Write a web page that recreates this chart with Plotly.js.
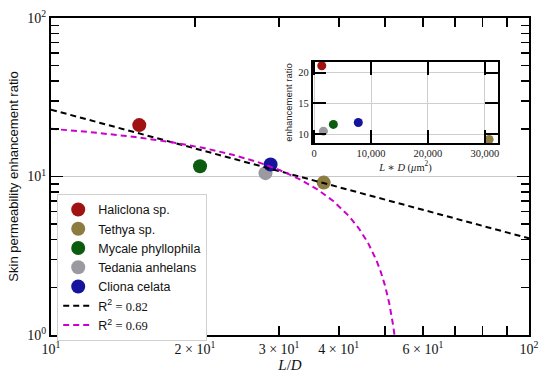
<!DOCTYPE html>
<html><head><meta charset="utf-8">
<script src="https://cdn.plot.ly/plotly-3.0.1.min.js"></script>
<style>html,body{margin:0;padding:0;background:#fff}#chart{width:550px;height:381px}</style>
</head><body><div id="chart"></div>
<script>
// Species data
const species = ['Haliclona sp.', 'Tethya sp.', 'Mycale phyllophila', 'Tedania anhelans', 'Cliona celata'];
const colors = ['#a11212', '#8c7c40', '#0c5c10', '#9a9aa0', '#14149c'];
const ratioLD = [15.3, 37.2, 20.5, 28.1, 28.8];
const enhancement = [21.1, 9.15, 11.6, 10.5, 11.9];
const productLD = [1350, 30750, 3390, 1640, 7770];

// Fit lines
const fitBlackX = [10, 100];
const fitBlackY = [26.4, 4.07];
const fitMagentaX = [10, 12, 15, 18, 21, 24, 27, 30, 33, 36, 39, 42, 44, 46, 48, 49, 50, 51, 52, 52.5];
const fitMagentaY = [20.0, 19.1, 17.75, 16.4, 15.06, 13.71, 12.37, 11.02, 9.67, 8.33, 6.98, 5.63, 4.73, 3.84, 2.94, 2.49, 2.04, 1.59, 1.14, 0.92];

// Tick labels
const xTickVals = [10, 20, 30, 40, 60, 100];
const xTickText = ['10<sup>1</sup>', '2 × 10<sup>1</sup>', '3 × 10<sup>1</sup>', '4 × 10<sup>1</sup>', '6 × 10<sup>1</sup>', '10<sup>2</sup>'];
const xMinorVals = [50, 70, 80, 90];
const yTickVals = [1, 10, 100];
const yTickText = ['10<sup>0</sup>', '10<sup>1</sup>', '10<sup>2</sup>'];
const yMinorVals = [2, 3, 4, 5, 6, 7, 8, 9, 20, 30, 40, 50, 60, 70, 80, 90];
const insetXTickVals = [0, 10000, 20000, 30000];
const insetXTickText = ['0', '10,000', '20,000', '30,000'];
const insetYTickVals = [10, 15, 20];

const serif = 'Liberation Serif, DejaVu Serif, serif';
const sans = 'Liberation Sans, DejaVu Sans, sans-serif';

const traces = [];
species.forEach((s, i) => {
  traces.push({
    x: [ratioLD[i]], y: [enhancement[i]], type: 'scatter', mode: 'markers', name: s,
    marker: {color: colors[i], size: 14, line: {width: 0}}, xaxis: 'x', yaxis: 'y'
  });
});
traces.push({x: fitBlackX, y: fitBlackY, type: 'scatter', mode: 'lines',
  name: 'R<sup>2</sup> <span style="font-family:Liberation Serif">= 0.82</span>',
  line: {color: '#000', width: 2, dash: '6px,4px'}, xaxis: 'x', yaxis: 'y'});
traces.push({x: fitMagentaX, y: fitMagentaY, type: 'scatter', mode: 'lines',
  name: 'R<sup>2</sup> <span style="font-family:Liberation Serif">= 0.69</span>',
  line: {color: '#cc00cc', width: 2, dash: '6px,4px'}, xaxis: 'x', yaxis: 'y'});
species.forEach((s, i) => {
  traces.push({
    x: [productLD[i]], y: [enhancement[i]], type: 'scatter', mode: 'markers', showlegend: false,
    marker: {color: colors[i], size: 9, line: {width: 0}}, xaxis: 'x2', yaxis: 'y2', cliponaxis: false
  });
});

const layout = {
  width: 550, height: 381,
  margin: {l: 51, r: 21, t: 18, b: 46},
  paper_bgcolor: '#fff', plot_bgcolor: '#fff',
  showlegend: true,
  legend: {x: 0.013, y: 0.445, xanchor: 'left', yanchor: 'top', bgcolor: '#fff',
    bordercolor: '#d0d0d0', borderwidth: 1, font: {family: sans, size: 12.5, color: '#111'},
    itemwidth: 30, tracegroupgap: 0},
  xaxis: {type: 'log', range: [1, 2], domain: [0, 1], tickmode: 'array', tickvals: xTickVals, ticktext: xTickText,
    ticks: 'inside', ticklen: 9, tickwidth: 1.5, tickcolor: '#000', showline: true, linewidth: 2, linecolor: '#000',
    mirror: 'ticks', showgrid: false, zeroline: false,
    minor: {tickmode: 'array', tickvals: xMinorVals, ticks: 'inside', ticklen: 9, tickwidth: 1.5, tickcolor: '#000', showgrid: false},
    tickfont: {family: serif, size: 14, color: '#111'},
    title: {text: '<i>L</i>/<i>D</i>', font: {family: serif, size: 15, color: '#111'}, standoff: 4}},
  yaxis: {type: 'log', range: [0, 2], domain: [0, 1], tickmode: 'array', tickvals: yTickVals, ticktext: yTickText,
    ticks: 'inside', ticklen: 12, tickwidth: 1.5, tickcolor: '#000', showline: true, linewidth: 2, linecolor: '#000',
    mirror: 'ticks', showgrid: true, gridcolor: '#c8c8c8', gridwidth: 1, zeroline: false,
    minor: {tickmode: 'array', tickvals: yMinorVals, ticks: 'inside', ticklen: 8, tickwidth: 1.5, tickcolor: '#000', showgrid: false},
    tickfont: {family: serif, size: 14, color: '#111'},
    title: {text: 'Skin permeability enhancement ratio', font: {family: sans, size: 13, color: '#111'}, standoff: 6}},
  xaxis2: {domain: [0.548, 0.935], anchor: 'y2', range: [-200, 32300], tickmode: 'array',
    tickvals: insetXTickVals, ticktext: insetXTickText, ticks: 'inside', ticklen: 13, tickwidth: 2, tickcolor: '#000',
    showline: true, linewidth: 2, linecolor: '#000', mirror: 'ticks', showgrid: true, gridcolor: '#cfcfcf', zeroline: false,
    tickfont: {family: serif, size: 10.5, color: '#222'},
    title: {text: '<i>L</i> ∗ <i>D</i> (<i>μ</i>m<sup>2</sup>)', font: {family: serif, size: 10.5, color: '#222'}, standoff: 5}},
  yaxis2: {domain: [0.606, 0.861], anchor: 'x2', range: [8.6, 21.7], tickmode: 'array',
    tickvals: insetYTickVals, ticks: 'inside', ticklen: 13, tickwidth: 2, tickcolor: '#000',
    showline: true, linewidth: 2, linecolor: '#000', mirror: 'ticks', showgrid: true, gridcolor: '#cfcfcf', zeroline: false,
    tickfont: {family: serif, size: 10.5, color: '#222'},
    title: {text: 'enhancement ratio', font: {family: sans, size: 9.5, color: '#222'}, standoff: 4}}
};

Plotly.newPlot('chart', traces, layout, {displayModeBar: false, staticPlot: true});
</script>
</body></html>
